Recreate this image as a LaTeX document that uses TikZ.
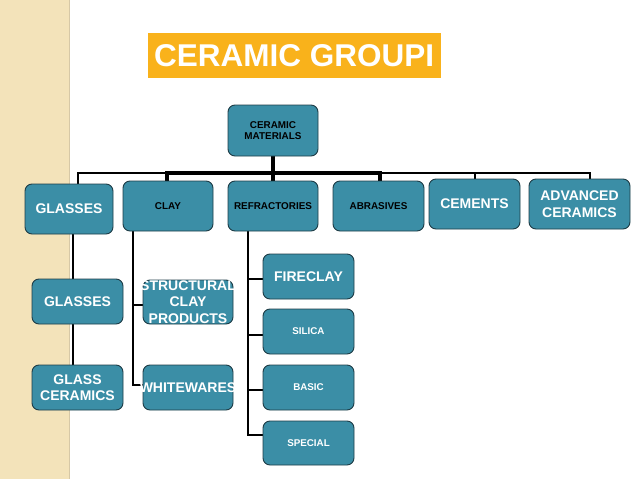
\documentclass[tikz,border=0pt]{standalone}
\usepackage{fontspec}
\setmainfont{Liberation Sans}
\usetikzlibrary{backgrounds}
\definecolor{tealbox}{HTML}{3B8EA6}
\definecolor{tealedge}{HTML}{1E3C46}
\definecolor{titleorange}{HTML}{F9B21B}
\definecolor{paperstrip}{HTML}{F3E3BA}
\definecolor{stripedge}{HTML}{D6C8A6}
\tikzset{
  box/.style={draw=tealedge, line width=0.9pt, fill=tealbox, rounded corners=7pt,
    inner sep=0pt, align=center},
  darktext/.style={text=black, font=\fontsize{9.9}{11}\selectfont\bfseries},
  lighttext/.style={text=white, font=\fontsize{14}{16.5}\selectfont\bfseries},
  smalllight/.style={text=white, font=\fontsize{9.8}{11}\selectfont\bfseries},
  titlebar/.style={fill=titleorange, text=white, font=\fontsize{31.5}{36}\selectfont\bfseries,
    minimum height=45pt, inner xsep=6pt, inner ysep=0pt},
  bus/.style={line width=1.8pt},
  trunk/.style={line width=4.5pt}
}

\begin{document}
\begin{tikzpicture}[x=1pt, y=-1pt]
  \useasboundingbox (0,0) rectangle (638,479);

  \node[titlebar, anchor=north west] (title) at (148,33)
    {\makebox[281pt][l]{CERAMIC GROUPI}};

  % top of the tree
  \node[box, darktext, minimum width=90pt, minimum height=51pt] (root) at (273,130.5)
    {CERAMIC\\MATERIALS};

  \node[box, lighttext, minimum width=88pt, minimum height=50pt] (glass1) at (69,209) {GLASSES};
  \node[box, darktext, minimum width=90pt, minimum height=50pt] (clay) at (168,206) {CLAY};
  \node[box, darktext, minimum width=90pt, minimum height=50pt] (refr) at (273,206) {REFRACTORIES};
  \node[box, darktext, minimum width=91pt, minimum height=50pt] (abras) at (378.5,206) {ABRASIVES};
  \node[box, lighttext, minimum width=91pt, minimum height=50pt] (cement) at (474.5,204) {CEMENTS};
  \node[box, lighttext, minimum width=101pt, minimum height=50pt] (adv) at (579.5,204)
    {ADVANCED\\CERAMICS};

  % second level
  \node[box, lighttext, minimum width=91pt, minimum height=45pt] (glass2) at (77.5,301.5) {GLASSES};
  \node[box, lighttext, minimum width=91pt, minimum height=45pt] (glassceram) at (77.5,387.5)
    {GLASS\\CERAMICS};

  \node[box, lighttext, text width=90pt, minimum height=44pt] (struct) at (188,302)
    {\makebox[90pt]{STRUCTURAL}\\CLAY\\PRODUCTS};
  \node[box, lighttext, text width=90pt, minimum height=45pt] (white) at (188,387.5)
    {\makebox[90pt]{WHITEWARES}};

  \node[box, lighttext, minimum width=91pt, minimum height=45pt] (fire) at (308.5,276.5) {FIRECLAY};
  \node[box, smalllight, minimum width=91pt, minimum height=45pt] (silica) at (308.5,331.5) {SILICA};
  \node[box, smalllight, minimum width=91pt, minimum height=45pt] (basic) at (308.5,387.5) {BASIC};
  \node[box, smalllight, minimum width=91pt, minimum height=44pt] (special) at (308.5,443) {SPECIAL};

  \coordinate (trunkL) at (167,173);
  \coordinate (trunkR) at (380,173);
  \coordinate (busL) at (78,173);
  \coordinate (busR) at (590,173);
  \coordinate (cemdrop) at (475,173);
  \coordinate (glassspine) at (73,0);
  \coordinate (clayspine) at (133,385);
  \coordinate (claystruct) at (133,305);
  \coordinate (refspine) at (248,435);

  \begin{scope}[on background layer]
    \fill[paperstrip] (0,0) rectangle (69,479);
    \draw[stripedge, line width=1.5pt] (69.5,0) -- (69.5,479);

    % connectors
    \draw[bus] (busL |- glass1.north) -- (busL) -- (busR) -- (busR |- adv.north);
    \draw[bus] (cemdrop) -- (cemdrop |- cement.north);
    \draw[trunk] (root.south) -- (refr.north);
    \draw[trunk] (trunkL |- clay.north) -- (trunkL) -- (trunkR) -- (trunkR |- abras.north);

    \draw[bus] (glassspine |- glass1.south) -- (glassspine |- glassceram.north);

    \draw[bus] (clayspine |- clay.south) -- (clayspine) -- (clayspine -| white.west);
    \draw[bus] (claystruct) -- (claystruct -| struct.west);

    \draw[bus] (refspine |- refr.south) -- (refspine) -- (refspine -| special.west);
    \foreach \kid/\yy in {fire/279, silica/335, basic/390}
      \draw[bus] (248,\yy) -- (\kid.west |- 248,\yy);
  \end{scope}
\end{tikzpicture}
\end{document}
